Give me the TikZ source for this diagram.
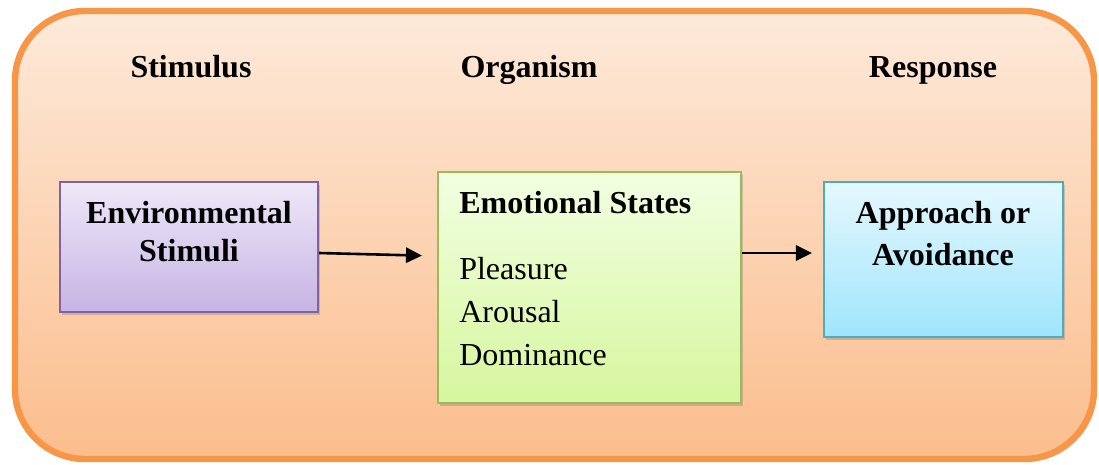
\documentclass[tikz,border=0pt]{standalone}
\usepackage{fontspec}
\setmainfont{Liberation Serif}
\usetikzlibrary{arrows.meta,shadows}

\definecolor{frameline}{RGB}{247,150,70}
\definecolor{frametop}{RGB}{253,234,218}
\definecolor{framebot}{RGB}{251,189,140}
\definecolor{envline}{RGB}{128,100,162}
\definecolor{envtop}{RGB}{238,232,248}
\definecolor{envbot}{RGB}{199,180,228}
\definecolor{emoline}{RGB}{155,187,89}
\definecolor{emotop}{RGB}{242,255,226}
\definecolor{emobot}{RGB}{214,246,158}
\definecolor{respline}{RGB}{75,172,198}
\definecolor{resptop}{RGB}{229,248,254}
\definecolor{respbot}{RGB}{160,229,252}

\begin{document}
\begin{tikzpicture}[x=0.025cm,y=-0.025cm,
  head/.style={font=\fontsize{22.76pt}{27pt}\selectfont\bfseries,anchor=base},
  box/.style={draw,line width=0.05cm,shading=axis,inner sep=0pt,
    drop shadow={shadow xshift=0.05cm,shadow yshift=-0.08cm,opacity=0.35}},
  flow/.style={line width=0.065cm,-{Triangle[length=0.4cm,width=0.38cm]}}]
\useasboundingbox (0,0) rectangle (1099,465);

% frame
\draw[rounded corners=1.75cm,line width=0.16cm,draw=frameline,
  top color=frametop,bottom color=framebot,
  drop shadow={shadow xshift=0.07cm,shadow yshift=-0.07cm,opacity=0.3}]
  (15,11) rectangle (1094,459);

\node[head] (stim) at (191,78) {Stimulus};
\node[head] (org) at (529,78) {Organism};
\node[head] (resp) at (933,78) {Response};

% boxes
\node[box,draw=envline,top color=envtop,bottom color=envbot,
  minimum width=6.45cm,minimum height=3.25cm] (env) at (189,247) {};
\node[box,draw=emoline,top color=emotop,bottom color=emobot,
  minimum width=7.575cm,minimum height=5.775cm] (emo) at (589.5,287.5) {};
\node[box,draw=respline,top color=resptop,bottom color=respbot,
  minimum width=5.975cm,minimum height=3.875cm] (app) at (943.5,259.5) {};

\node[anchor=north,align=center,inner sep=0pt,
  font=\fontsize{22.76pt}{27pt}\selectfont\bfseries] (envtxt) at (189,201)
  {Environmental\\Stimuli};
\node[anchor=north west,align=left,inner sep=0pt,
  font=\fontsize{22.76pt}{30.6pt}\selectfont] (emotxt) at (459,191)
  {\textbf{Emotional States}\\[0.575cm]Pleasure\\Arousal\\Dominance};
\node[anchor=north,align=center,inner sep=0pt,
  font=\fontsize{22.76pt}{29.9pt}\selectfont\bfseries] (apptxt) at (943,201)
  {Approach or\\Avoidance};

% arrows
\draw[flow,shorten >=0.375cm] (env.east |- 0,253) -- (emo.west |- 0,256);
\draw[flow,shorten >=0.275cm] (emo.east |- 0,253) -- (app.west |- 0,253);
\end{tikzpicture}
\end{document}
